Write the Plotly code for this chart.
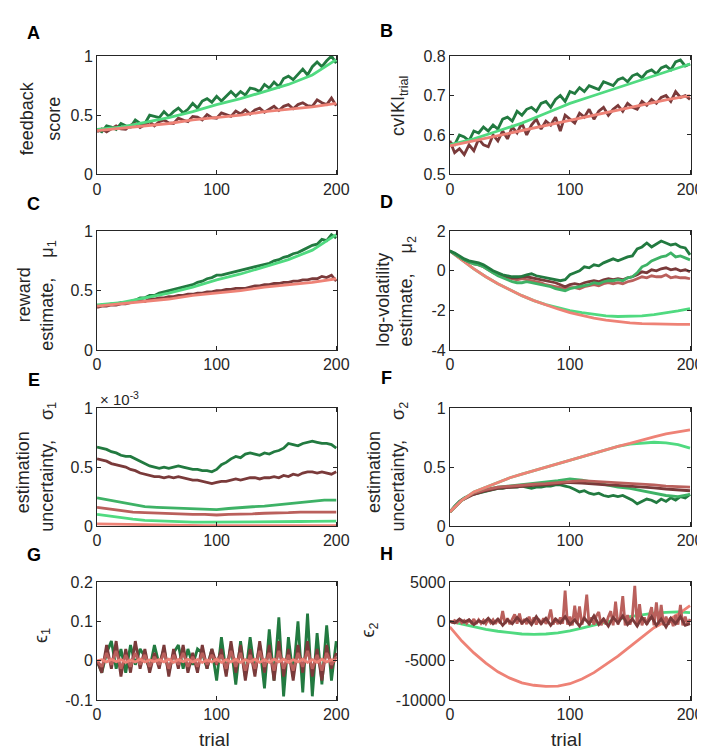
import numpy as np
import plotly.graph_objects as go

# ---- data ----
# noisy series sampled every 4 trials, smooth ones every 10 trials, spiky every 2
A_dkgreen = [.38,.36,.41,.40,.38,.43,.41,.40,.46,.43,.43,.50,.49,.48,.53,.49,.53,.56,.52,.55,.60,.56,.62,.64,.61,.66,.62,.66,.70,.66,.70,.67,.73,.72,.70,.76,.73,.78,.74,.81,.83,.80,.85,.89,.84,.91,.95,.91,.96,1.0,.94]
A_dkbrown = [.36,.385,.36,.385,.41,.385,.38,.415,.43,.395,.42,.445,.41,.445,.46,.435,.43,.475,.46,.445,.49,.485,.46,.505,.48,.475,.52,.505,.49,.535,.51,.545,.51,.545,.56,.525,.55,.575,.54,.575,.59,.555,.59,.605,.58,.575,.63,.605,.59,.645,.58]
A_ltgreen = [.38,.40,.44,.48,.53,.59,.64,.70,.76,.84,.97]
A_salmon = [.37,.39,.41,.43,.46,.48,.50,.53,.55,.57,.60]

B_dkgreen = [.58,.575,.60,.595,.585,.61,.605,.62,.61,.625,.615,.64,.645,.635,.66,.65,.665,.67,.66,.68,.685,.67,.69,.70,.685,.71,.705,.72,.71,.725,.72,.715,.735,.73,.725,.74,.745,.735,.75,.755,.745,.76,.765,.755,.77,.775,.765,.785,.79,.775,.78]
B_dkbrown = [.585,.555,.565,.55,.575,.56,.59,.575,.57,.60,.585,.61,.59,.62,.605,.63,.60,.625,.64,.615,.635,.625,.645,.61,.65,.64,.63,.655,.645,.665,.64,.66,.67,.65,.665,.675,.66,.68,.67,.665,.685,.675,.69,.68,.695,.70,.685,.71,.695,.70,.69]
B_ltgreen = [.575,.59,.61,.63,.655,.68,.70,.72,.74,.76,.78]
B_salmon = [.572,.585,.598,.611,.624,.637,.650,.663,.676,.689,.70]

C_dkgreen = [.37,.38,.38,.39,.39,.40,.40,.41,.42,.44,.44,.46,.46,.48,.49,.50,.51,.52,.53,.54,.55,.57,.58,.60,.61,.63,.63,.64,.65,.66,.67,.68,.69,.70,.71,.72,.73,.75,.76,.78,.79,.81,.82,.84,.86,.88,.89,.93,.92,.97,.94]
C_dkbrown = [.36,.37,.37,.38,.38,.39,.39,.40,.41,.42,.41,.43,.43,.44,.44,.45,.45,.46,.46,.47,.47,.48,.48,.49,.49,.50,.50,.51,.51,.52,.52,.52,.53,.54,.54,.55,.55,.56,.56,.57,.57,.58,.58,.59,.59,.60,.60,.62,.61,.63,.58]
C_ltgreen = [.38,.40,.44,.48,.53,.59,.64,.70,.76,.84,.97]
C_salmon = [.37,.39,.41,.43,.46,.48,.50,.53,.55,.57,.60]

D_dkgreen = [1.0,.9,.75,.6,.5,.45,.4,.3,.15,0,-.1,-.2,-.25,-.3,-.3,-.28,-.2,-.15,-.25,-.3,-.35,-.4,-.45,-.5,-.45,-.2,-.1,0,.2,.15,.3,.25,.4,.5,.6,.5,.6,.7,.75,1.1,1.2,1.4,1.2,1.35,1.5,1.4,1.3,1.35,1.2,1.15,.8]
D_mdgreen = [1.0,.85,.7,.55,.45,.35,.3,.2,.05,-.1,-.25,-.35,-.45,-.55,-.6,-.6,-.55,-.6,-.65,-.7,-.75,-.8,-.9,-.95,-1.0,-.9,-.85,-.8,-.75,-.7,-.6,-.65,-.55,-.5,-.5,-.45,-.5,-.35,-.3,-.1,.2,.3,.5,.6,.7,.75,.9,.7,.75,.65,.55]
D_dkbrown = [1.0,.85,.7,.55,.45,.4,.35,.25,.1,-.05,-.15,-.25,-.3,-.35,-.35,-.3,-.3,-.35,-.4,-.45,-.5,-.55,-.6,-.7,-.8,-.7,-.65,-.7,-.6,-.55,-.5,-.55,-.45,-.4,-.45,-.4,-.45,-.35,-.3,-.2,-.05,-.1,.05,0,.1,.15,.05,.1,0,.05,-.05]
D_mdred = [1.0,.85,.7,.55,.45,.35,.3,.2,.05,-.1,-.2,-.3,-.35,-.4,-.45,-.4,-.45,-.5,-.55,-.6,-.7,-.75,-.8,-.85,-.9,-.85,-.85,-.9,-.8,-.75,-.7,-.75,-.65,-.6,-.65,-.6,-.65,-.55,-.5,-.4,-.3,-.35,-.25,-.3,-.3,-.2,-.35,-.3,-.35,-.35,-.4]
D_ltgreen = [1.0,.55,.1,-.3,-.65,-.95,-1.25,-1.5,-1.7,-1.85,-2.0,-2.1,-2.2,-2.27,-2.3,-2.3,-2.27,-2.2,-2.12,-2.02,-1.9]
D_salmon = [1.0,.55,.1,-.3,-.65,-.95,-1.25,-1.5,-1.72,-1.92,-2.1,-2.25,-2.38,-2.48,-2.56,-2.62,-2.66,-2.68,-2.7,-2.7,-2.7]

# panel E values in units of 1e-3
E_dkgreen = [.67,.66,.65,.63,.62,.60,.59,.59,.57,.55,.53,.51,.50,.49,.50,.49,.50,.51,.50,.49,.48,.48,.47,.47,.46,.48,.52,.54,.57,.59,.58,.61,.62,.61,.60,.62,.61,.63,.64,.66,.70,.69,.68,.70,.71,.72,.71,.70,.70,.69,.66]
E_dkbrown = [.57,.56,.55,.53,.52,.51,.50,.48,.47,.45,.44,.43,.42,.42,.41,.42,.41,.42,.41,.40,.39,.39,.38,.37,.36,.37,.38,.38,.39,.40,.39,.40,.41,.41,.40,.41,.41,.42,.41,.43,.42,.44,.43,.45,.46,.46,.45,.46,.45,.44,.46]
E_mdgreen = [.24,.22,.20,.18,.165,.16,.155,.15,.145,.14,.14,.15,.16,.165,.17,.18,.19,.20,.21,.22,.22]
E_mdred = [.16,.145,.13,.12,.115,.11,.105,.10,.10,.10,.095,.10,.10,.105,.11,.11,.115,.12,.12,.12,.12]
E_ltgreen = [.10,.085,.07,.06,.05,.045,.04,.038,.035,.035,.035,.035,.036,.037,.038,.039,.04,.04,.042,.042,.043]
E_salmon = [.02,.018,.015,.012,.01,.009,.008,.007,.006,.006,.005,.005,.005,.005,.005,.005,.005,.005,.005,.005,.005]

F_salmon = [.12,.22,.29,.33,.37,.41,.44,.47,.50,.53,.555,.585,.615,.645,.675,.70,.73,.755,.78,.80,.815]
F_ltgreen = [.12,.22,.29,.33,.37,.41,.44,.47,.50,.53,.555,.585,.615,.645,.675,.695,.705,.71,.705,.69,.66]
F_mdgreen = [.12,.22,.28,.31,.33,.34,.35,.36,.37,.385,.40,.39,.37,.35,.33,.32,.30,.28,.26,.25,.27]
F_dkgreen = [.12,.17,.21,.24,.26,.27,.28,.29,.30,.31,.32,.32,.33,.33,.33,.34,.33,.32,.33,.33,.34,.34,.35,.35,.34,.33,.31,.29,.30,.28,.27,.28,.26,.25,.26,.25,.26,.24,.22,.19,.21,.23,.22,.20,.23,.21,.24,.22,.25,.24,.27]
F_dkbrown = [.12,.22,.27,.30,.32,.33,.34,.345,.35,.36,.37,.365,.355,.35,.345,.34,.335,.325,.315,.31,.30]
F_mdred = [.12,.22,.28,.31,.33,.34,.35,.355,.36,.37,.38,.385,.38,.375,.37,.365,.36,.35,.34,.335,.33]

G_dkgreen = [0,-.03,.02,.05,-.02,.03,-.03,.04,-.01,.03,.01,-.02,.04,-.01,.03,-.03,.02,.04,-.02,.03,-.01,.03,.02,-.02,.03,-.05,.06,-.03,.04,-.06,.05,-.04,.06,-.03,.04,-.07,.08,-.05,.11,-.09,.06,-.04,.10,-.08,.12,-.09,.07,-.06,.09,-.05,.05]
G_dkbrown = [0,-.03,.04,-.02,.05,-.04,.03,-.03,.05,-.02,.03,-.03,.02,-.02,.04,-.04,.03,-.02,.04,-.03,.02,-.03,.04,-.02,.03,-.01,.03,-.04,.05,-.03,.04,-.05,.03,-.04,.05,-.03,.04,-.05,.05,-.04,.03,-.05,.04,-.03,.05,-.04,.03,-.05,.04,-.02,.02]
G_mdred = [0,-.015,.02,-.01,.025,-.02,.015,-.015,.02,-.01,.015,-.015,.01,-.01,.02,-.02,.015,-.01,.02,-.015,.01,-.015,.02,-.01,.015,-.005,.015,-.02,.025,-.015,.02,-.025,.015,-.02,.025,-.015,.02,-.025,.025,-.02,.015,-.025,.02,-.015,.025,-.02,.015,-.025,.02,-.01,.01]
G_salmon = [0,.003,-.003,.004,-.002,.003,-.004,.002,-.003,.004,-.003,.002,-.002,.003,-.003,.004,-.004,.003,-.002,.004,-.003,.003,-.004,.002,-.003,.004,-.004,.003,-.003,.004,-.004,.003,-.003,.004,-.004,.003,-.004,.004,-.003,.004,-.004,.003,-.003,.004,-.004,.003,-.004,.004,-.003,.003,0]

H_salmon = [-700,-2500,-4000,-5300,-6400,-7200,-7800,-8100,-8250,-8200,-7900,-7300,-6500,-5500,-4400,-3200,-2000,-800,0,900,2000]
H_ltgreen = [0,-350,-700,-1000,-1250,-1450,-1600,-1650,-1600,-1450,-1200,-850,-450,-50,300,600,850,1050,1150,1200,1100]
H_mdred = [0,-100,100,-150,200,-200,100,-250,150,-200,300,-300,200,-250,150,-300,250,-200,200,-300,
           300,-250,1300,-300,400,-350,300,900,-300,1000,-400,300,-350,600,-300,500,-400,300,-350,400,
           -300,300,1500,-400,400,-350,500,-300,3900,-400,600,-500,2000,-300,1900,-400,600,3400,-500,500,
           -400,700,1200,-500,400,-400,600,1300,-500,2500,-400,500,3200,-500,800,-400,600,4500,-600,2200,
           -500,500,-400,700,1800,-500,2400,-400,2100,-500,600,-400,500,-600,800,-400,2100,-500,600,-400,300]
H_dkbrown = [0,-200,300,-100,200,-400,100,-200,400,-300,300,-500,200,-300,500,-200,300,-400,600,-300,400,-500,300,-200,600,-400,200,-600,400,-300,700,-400,300,-600,500,-200,700,-400,300,-600,500,-300,600,-500,300,-700,400,-300,600,-500,-300]

# ---- colours ----
DKGREEN = "rgb(34,122,64)"
MDGREEN = "rgb(62,178,102)"
LTGREEN = "rgb(80,218,128)"
DKBROWN = "rgb(122,58,58)"
MDRED = "rgb(186,96,92)"
SALMON = "rgb(238,130,118)"
INK = "#262626"
FONT = "Liberation Sans, Arial, Helvetica, sans-serif"

W, H = 705, 755
cols = [(87, 333), (448, 695)]
rows = [(41, 162), (220, 342), (401, 522), (579, 700)]

panels = {
    "A": [(A_dkgreen, DKGREEN), (A_dkbrown, DKBROWN), (A_ltgreen, LTGREEN), (A_salmon, SALMON)],
    "B": [(B_dkgreen, DKGREEN), (B_dkbrown, DKBROWN), (B_ltgreen, LTGREEN), (B_salmon, SALMON)],
    "C": [(C_dkgreen, DKGREEN), (C_dkbrown, DKBROWN), (C_ltgreen, LTGREEN), (C_salmon, SALMON)],
    "D": [(D_ltgreen, LTGREEN), (D_salmon, SALMON), (D_mdred, MDRED), (D_dkbrown, DKBROWN),
          (D_mdgreen, MDGREEN), (D_dkgreen, DKGREEN)],
    "E": [(E_dkgreen, DKGREEN), (E_dkbrown, DKBROWN), (E_mdgreen, MDGREEN), (E_mdred, MDRED),
          (E_ltgreen, LTGREEN), (E_salmon, SALMON)],
    "F": [(F_dkgreen, DKGREEN), (F_mdgreen, MDGREEN), (F_dkbrown, DKBROWN), (F_mdred, MDRED),
          (F_ltgreen, LTGREEN), (F_salmon, SALMON)],
    "G": [(G_dkgreen, DKGREEN), (G_dkbrown, DKBROWN), (G_mdred, MDRED), (G_salmon, SALMON)],
    "H": [(H_ltgreen, LTGREEN), (H_salmon, SALMON), (H_mdred, MDRED), (H_dkbrown, DKBROWN)],
}
yticks = {
    "A": ([0, 0.5, 1], ["0", "0.5", "1"], [0, 1]),
    "B": ([0.5, 0.6, 0.7, 0.8], ["0.5", "0.6", "0.7", "0.8"], [0.5, 0.8]),
    "C": ([0, 0.5, 1], ["0", "0.5", "1"], [0, 1]),
    "D": ([-4, -2, 0, 2], ["-4", "-2", "0", "2"], [-4, 2]),
    "E": ([0, 0.5, 1], ["0", "0.5", "1"], [0, 1]),
    "F": ([0, 0.5, 1], ["0", "0.5", "1"], [0, 1]),
    "G": ([-0.1, 0, 0.1, 0.2], ["-0.1", "0", "0.1", "0.2"], [-0.1, 0.2]),
    "H": ([-10000, -5000, 0, 5000], ["-10000", "-5000", "0", "5000"], [-10000, 5000]),
}

fig = go.Figure()
layout = {}
for i, key in enumerate("ABCDEFGH"):
    r, c = i // 2, i % 2
    n = i + 1
    xa = "x" if n == 1 else f"x{n}"
    ya = "y" if n == 1 else f"y{n}"
    for vals, col in panels[key]:
        xs = np.linspace(0, 200, len(vals))
        fig.add_trace(go.Scatter(x=xs, y=vals, mode="lines", xaxis=xa, yaxis=ya,
                                 line=dict(color=col, width=2.8),
                                 showlegend=False, hoverinfo="skip"))
    x0, x1 = cols[c]
    y0, y1 = rows[r]
    tv, tt, rng = yticks[key]
    common = dict(showline=True, linecolor=INK, linewidth=1, mirror="ticks",
                  ticks="inside", ticklen=4, tickcolor=INK, showgrid=False,
                  zeroline=False, tickfont=dict(size=16, color=INK, family=FONT))
    layout["xaxis" if n == 1 else f"xaxis{n}"] = dict(
        domain=[x0 / W, x1 / W], anchor=ya, range=[0, 201],
        tickvals=[0, 100, 200], ticktext=["0", "100", "200"], **common)
    layout["yaxis" if n == 1 else f"yaxis{n}"] = dict(
        domain=[1 - y1 / H, 1 - y0 / H], anchor=xa, range=rng,
        tickvals=tv, ticktext=tt, **common)

ann = []


def add_text(txt, px, py, size, angle=0, anchor="center", bold=False):
    ann.append(dict(text=f"<b>{txt}</b>" if bold else txt, x=px / W, y=1 - py / H,
                    xref="paper", yref="paper", showarrow=False, textangle=angle,
                    xanchor=anchor, yanchor="middle",
                    font=dict(size=size, color="black" if bold else INK, family=FONT)))


letters = {"A": (22, 17), "B": (383, 15), "C": (22, 192), "D": (383, 190),
           "E": (22, 372), "F": (383, 370), "G": (22, 551), "H": (383, 550)}
for k, (px, py) in letters.items():
    add_text(k, px, py, 18, bold=True)

sp = "\u00a0\u00a0\u00a0\u00a0"
# y-axis labels, one annotation per rotated line
add_text("feedback", 15, 105, 18, -90)
add_text("score", 43, 105, 18, -90)
add_text("cvIKI<sub>trial</sub>", 397, 92, 18, -90)
add_text("reward", 12, 285, 18, -90)
add_text("estimate," + sp + "\u03bc<sub>1</sub>", 37, 286, 18, -90)
add_text("log-volatility", 380, 290, 18, -90)
add_text("estimate," + sp + "\u03bc<sub>2</sub>", 405, 282, 18, -90)
add_text("estimation", 12, 467, 18, -90)
add_text("uncertainty," + sp + "\u03c3<sub>1</sub>", 37, 461, 18, -90)
add_text("estimation", 371, 467, 18, -90)
add_text("uncertainty," + sp + "\u03c3<sub>2</sub>", 397, 461, 18, -90)
add_text("\u03f5<sub>1</sub>", 31, 634, 18, -90)
add_text("\u03f5<sub>2</sub>", 366, 628, 18, -90)

add_text("\u00d7 10<sup>-3</sup>", 88, 391, 15, anchor="left")
add_text("trial", 207, 740, 19)
add_text("trial", 567, 740, 19)

fig.update_layout(width=W, height=H, margin=dict(l=0, r=0, t=0, b=0),
                  paper_bgcolor="white", plot_bgcolor="white",
                  font=dict(family=FONT, color=INK), annotations=ann, **layout)
fig.write_html("out.html")
